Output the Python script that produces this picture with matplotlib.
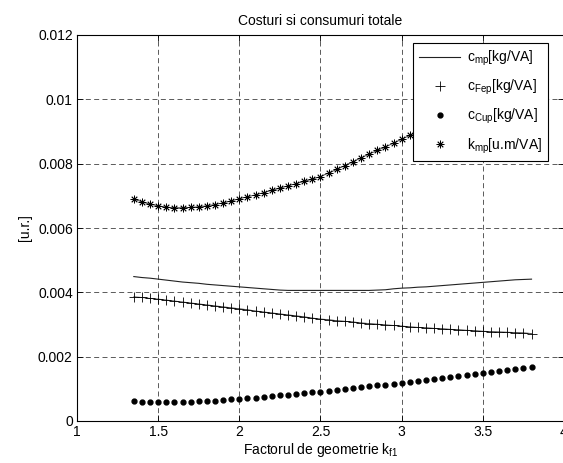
import numpy as np
import matplotlib.pyplot as plt

plt.rcParams['font.family'] = ['Liberation Sans', 'DejaVu Sans']
plt.rcParams['mathtext.fontset'] = 'custom'
plt.rcParams['mathtext.rm'] = 'Liberation Sans'
plt.rcParams['mathtext.it'] = 'Liberation Sans'
plt.rcParams['font.size'] = 10

# factor de geometrie
k_f1 = np.round(np.arange(1.35, 3.801, 0.05), 2)

c_mp = [0.00449, 0.00446, 0.00444, 0.00441, 0.00438, 0.00435, 0.00432, 0.00430, 0.00428, 0.00425,
        0.00423, 0.00421, 0.00419, 0.00417, 0.00415, 0.00413, 0.00411, 0.00409, 0.00407, 0.00406,
        0.00406, 0.00406, 0.00406, 0.00406, 0.00406, 0.00406, 0.00406, 0.00406, 0.00406, 0.00406,
        0.00407, 0.00408, 0.00411, 0.00413, 0.00414, 0.00416, 0.00417, 0.00419, 0.00421, 0.00423,
        0.00425, 0.00427, 0.00429, 0.00431, 0.00433, 0.00435, 0.00437, 0.00439, 0.00440, 0.00441]

c_Fep = [0.00386, 0.00384, 0.00381, 0.00379, 0.00376, 0.00373, 0.00370, 0.00367, 0.00364, 0.00361,
         0.00358, 0.00355, 0.00352, 0.00349, 0.00346, 0.00342, 0.00339, 0.00336, 0.00333, 0.00330,
         0.00327, 0.00324, 0.00320, 0.00317, 0.00315, 0.00312, 0.00310, 0.00308, 0.00305, 0.00303,
         0.00301, 0.00299, 0.00297, 0.00295, 0.00293, 0.00291, 0.00290, 0.00288, 0.00287, 0.00285,
         0.00284, 0.00282, 0.00281, 0.00279, 0.00278, 0.00277, 0.00276, 0.00275, 0.00274, 0.00272]

c_Cup = [0.00062, 0.00059, 0.00058, 0.00058, 0.00058, 0.00058, 0.00059, 0.00060, 0.00061, 0.00062,
         0.00063, 0.00065, 0.00067, 0.00069, 0.00071, 0.00073, 0.00075, 0.00077, 0.00080, 0.00082,
         0.00084, 0.00087, 0.00089, 0.00091, 0.00094, 0.00097, 0.00100, 0.00102, 0.00105, 0.00108,
         0.00111, 0.00113, 0.00116, 0.00119, 0.00122, 0.00125, 0.00128, 0.00131, 0.00134, 0.00137,
         0.00140, 0.00143, 0.00146, 0.00149, 0.00152, 0.00155, 0.00158, 0.00162, 0.00165, 0.00169]

k_mp = [0.00690, 0.00681, 0.00674, 0.00669, 0.00665, 0.00663, 0.00663, 0.00664, 0.00666, 0.00669,
        0.00673, 0.00678, 0.00684, 0.00691, 0.00697, 0.00703, 0.00710, 0.00717, 0.00724, 0.00731,
        0.00738, 0.00745, 0.00752, 0.00760, 0.00771, 0.00782, 0.00794, 0.00806, 0.00818, 0.00830,
        0.00841, 0.00852, 0.00864, 0.00876, 0.00888, 0.00900, 0.00912, 0.00924, 0.00936, 0.00948,
        0.00960, 0.00972, 0.00984, 0.00996, 0.01008, 0.01020, 0.01032, 0.01044, 0.01056, 0.01068]

x_ticks = [1, 1.5, 2, 2.5, 3, 3.5, 4]
y_ticks = [0, 0.002, 0.004, 0.006, 0.008, 0.01, 0.012]

fig = plt.figure(figsize=(5.63, 4.63), dpi=100)
ax = fig.add_axes([77/563, 1-421/463, (564-77)/563, (421-35)/463])

# thin lines under the marker series
ax.plot(k_f1, c_Fep, '-', color='#333333', lw=0.6)
ax.plot(k_f1, k_mp, '-', color='#333333', lw=0.6)

ax.plot(k_f1, c_mp, '-', color='#222222', lw=0.8, label=r'c$_{\mathregular{mp}}$[kg/VA]')
ax.plot(k_f1, c_Fep, '+', color='black', ms=7.5, mew=0.6, label=r'c$_{\mathregular{Fep}}$[kg/VA]')
ax.plot(k_f1, c_Cup, 'o', color='black', ms=3.5, label=r'c$_{\mathregular{Cup}}$[kg/VA]')
ax.plot(k_f1, k_mp, marker=(8, 2, 0), ls='none', color='black', ms=5.5, mew=0.6,
        label=r'k$_{\mathregular{mp}}$[u.m/VA]')

ax.set_xlim(1, 4)
ax.set_ylim(0, 0.012)
ax.set_xticks(x_ticks)
ax.set_xticklabels(['1', '1.5', '2', '2.5', '3', '3.5', '4'])
ax.set_yticks(y_ticks)
ax.set_yticklabels(['0', '0.002', '0.004', '0.006', '0.008', '0.01', '0.012'])
ax.tick_params(direction='in', top=True, right=True, length=4, width=0.6, pad=3)
ax.grid(True, ls=(0, (6, 4)), color='black', lw=0.6, alpha=0.75)
for s in ax.spines.values():
    s.set_linewidth(0.8)

ax.set_title('Costuri si consumuri totale', fontsize=10, pad=7)
ax.set_xlabel(r'Factorul de geometrie k$_{\mathregular{f1}}$', fontsize=10, labelpad=1)
ax.set_ylabel('[u.r.]', fontsize=10, labelpad=4)

leg = ax.legend(loc='upper right', bbox_to_anchor=(1 - 16/487, 1 - 8/386), fancybox=False,
                framealpha=1, edgecolor='black', handlelength=3.0, fontsize=10,
                borderpad=0.4, labelspacing=0.72, handletextpad=0.5, borderaxespad=0)
leg.get_frame().set_linewidth(0.8)

plt.savefig('out.png', dpi=100)
